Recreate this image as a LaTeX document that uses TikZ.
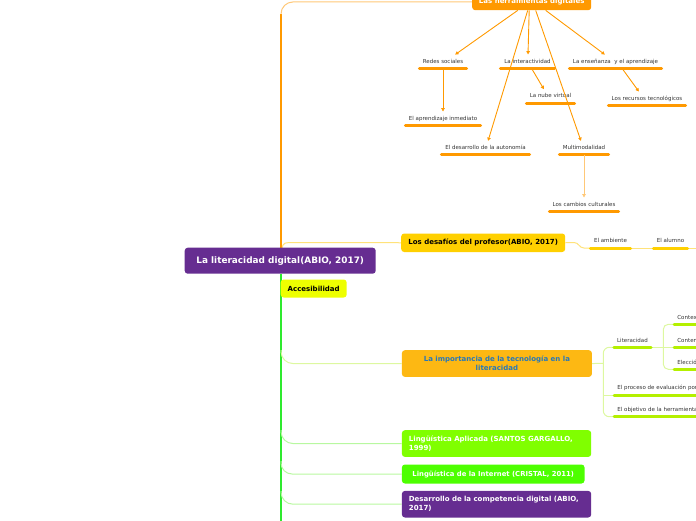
\documentclass[tikz,border=0pt]{standalone}
\usepackage{fontspec}
\setmainfont{DejaVu Sans}
\usetikzlibrary{arrows.meta}
\pgfdeclarelayer{bg}
\pgfsetlayers{bg,main}
\definecolor{orng}{HTML}{FF9900}
\definecolor{orngl}{HTML}{FFC878}
\definecolor{purp}{HTML}{662D91}
\definecolor{gold}{HTML}{FFD000}
\definecolor{goldl}{HTML}{FFE27A}
\definecolor{acc}{HTML}{EEFF00}
\definecolor{amber}{HTML}{FDB813}
\definecolor{blu}{HTML}{2878B8}
\definecolor{limeb}{HTML}{B4F000}
\definecolor{limel}{HTML}{DDF8A0}
\definecolor{lgreen}{HTML}{80FF00}
\definecolor{ggreen}{HTML}{4DFF00}
\definecolor{greenl}{HTML}{B8F8A0}
\definecolor{trunkg}{HTML}{2EEA2E}
\definecolor{txt}{HTML}{333333}
\begin{document}
\begin{tikzpicture}[x=1pt,y=-1pt,
  box/.style={rounded corners=3pt, inner sep=0pt, anchor=north west, font=\fontsize{7}{9}\selectfont\bfseries},
  leaf/.style={font=\fontsize{5.5}{6.5}\selectfont, text=txt, anchor=south, inner xsep=0pt, inner ysep=3.75pt, text height=4.4pt, text depth=1.3pt,
    append after command={(\tikzlastnode.south west) edge[line width=3pt, line cap=round, draw=#1] (\tikzlastnode.south east)}},
  lleaf/.style={leaf=#1, anchor=south west, align=left, text width=100pt, inner xsep=3pt},
  arr/.style={draw=orng, line width=0.9pt, -{Latex[length=3.5pt,width=4pt]}},
  conn/.style={line width=1pt},
]
\useasboundingbox (0,0) rectangle (696,520);

% main nodes
\node[box, fill=purp, text=white, minimum width=191, minimum height=26, font=\fontsize{8.9}{10}\selectfont\bfseries] (central) at (184.5,247.5) {La literacidad digital(ABIO, 2017)};
\node[box, fill=orng, text=white, minimum width=119, minimum height=16.5] (herr) at (472,-6.5) {Las herramientas digitales};
\node[box, fill=gold, text=black, minimum width=164, minimum height=18.5] (desafios) at (401,233.3) {Los desafíos del profesor(ABIO, 2017)};
\node[box, fill=acc, text=black, minimum width=66, minimum height=18] (acc) at (280.5,279.3) {Accesibilidad};
\node[box, fill=amber, text=blu, minimum width=190, minimum height=26.7, align=center] (imp) at (401.7,350) {La importancia de la tecnología en la\\literacidad};
\node[box, fill=lgreen, text=white, minimum height=26.7, align=left, text width=175.3pt, inner xsep=7pt] (aplic) at (401.7,430) {Lingüística Aplicada (SANTOS GARGALLO,\\1999)};
\node[box, fill=ggreen, text=white, minimum width=182.6, minimum height=19, font=\fontsize{6.85}{9}\selectfont\bfseries] (inter) at (401.7,464.3) {Lingüística de la Internet (CRISTAL, 2011)};
\node[box, fill=purp, text=white, minimum height=26.6, align=left, text width=175.3pt, inner xsep=7pt] (desarr) at (401.7,490.7) {Desarrollo de la competencia digital (ABIO,\\2017)};

% orange leaves
\node[leaf=orng, minimum width=47] (redes) at (443,68.3) {Redes sociales};
\node[leaf=orng, minimum width=54] (interact) at (527.5,68.3) {La interactividad};
\node[leaf=orng, minimum width=92] (ens) at (615.5,68.3) {La enseñanza\ \ y el aprendizaje};
\node[leaf=orng, minimum width=48] (nube) at (550.5,103) {La nube virtual};
\node[leaf=orng, minimum width=77] (recursos) at (647,105.3) {Los recursos tecnológicos};
\node[leaf=orng, minimum width=75] (aprinm) at (443,125.3) {El aprendizaje inmediato};
\node[leaf=orng, minimum width=88] (auton) at (485.5,154.7) {El desarrollo de la autonomía};
\node[leaf=orng, minimum width=49] (multim) at (584,154.7) {Multimodalidad};
\node[leaf=orng, minimum width=69] (cambios) at (584,211.3) {Los cambios culturales};

% desafios leaves
\node[leaf=gold, minimum width=40] (amb) at (610.5,248) {El ambiente};
\node[leaf=gold, minimum width=34] (alu) at (670.5,248) {El alumno};
\coordinate (dend) at (700,248);

% importancia leaves
\node[leaf=limeb, minimum width=37] (lit) at (632.5,347.3) {Literacidad};
\node[lleaf=limeb] (proc) at (614.2,395) {El proceso de evaluación por};
\node[lleaf=limeb] (obj) at (614.2,416.7) {El objetivo de la herramienta};
\node[lleaf=limeb] (cont1) at (674.2,324.3) {Contexto};
\node[lleaf=limeb] (cont2) at (674.2,347.3) {Contenido};
\node[lleaf=limeb] (elec) at (674.2,369.3) {Elección};
\coordinate (sp) at (603.3,363.3);
\coordinate (sp2) at (663.3,347.3);

% trunk coordinates
\coordinate (ttop) at (281,14);
\coordinate (tbot) at (281,530);
\coordinate (d0) at (282,249);
\coordinate (i0) at (281,350);
\coordinate (a0) at (281,430);
\coordinate (n0) at (281,461);
\coordinate (e0) at (281,491);

\begin{pgfonlayer}{bg}
\draw[orng, line width=2pt] (central.north -| ttop) -- (ttop);
\draw[orngl, conn, rounded corners=12pt] (ttop) |- (herr.west);
\draw[trunkg, line width=2.5pt] (central.south -| tbot) -- (tbot);
\draw[goldl, conn] (d0) .. controls (283,242.5) .. (298,242.5) -- (desafios.west);
\draw[limel, conn, rounded corners=12pt] (i0) |- (imp.west);
\draw[greenl, conn, rounded corners=12pt] (a0) |- (aplic.west);
\draw[greenl, conn, rounded corners=11pt] (n0) |- (inter.west);
\draw[greenl, conn, rounded corners=12pt] (e0) |- (desarr.west);
% desafios children
\draw[goldl, conn] (desafios.east) -- (574,242.5) .. controls (579,242.5) and (579,248) .. (584,248) -- (amb.south west);
\draw[goldl, conn] (amb.south east) -- (alu.south west);
\draw[goldl, conn] (alu.south east) -- (dend);
% importancia children
\draw[limel, conn] (imp.east) -- (sp);
\draw[limel, conn, rounded corners=6pt] (lit.south west) -| (sp) |- (obj.south west);
\draw[limel, conn] (sp) |- (proc.south west);
\draw[limel, conn] (lit.south east) -- (cont2.south west);
\draw[limel, conn, rounded corners=5pt] (cont1.south west) -| (sp2) |- (elec.south west);
\end{pgfonlayer}

% orange arrows
\draw[arr] ([xshift=-14pt]herr.south) -- ([xshift=12pt]redes.north);
\draw[arr] ([xshift=-2.5pt]herr.south) -- ([xshift=0.5pt]interact.north);
\draw[arr] ([xshift=14pt]herr.south) -- ([xshift=-10.5pt]ens.north);
\draw[arr] ([xshift=-4pt]herr.south) -- ([xshift=2.5pt]auton.north);
\draw[arr] ([xshift=4pt]herr.south) -- ([xshift=-3pt]multim.north);
\draw[arr] (redes.south) -- (aprinm.north);
\draw[arr] ([xshift=4pt]interact.south) -- ([xshift=-6.5pt]nube.north);
\draw[arr] ([xshift=6.5pt]ens.south) -- ([xshift=-8pt]recursos.north);
\draw[arr, draw=orngl] (multim.south) -- (cambios.north);
\end{tikzpicture}
\end{document}
